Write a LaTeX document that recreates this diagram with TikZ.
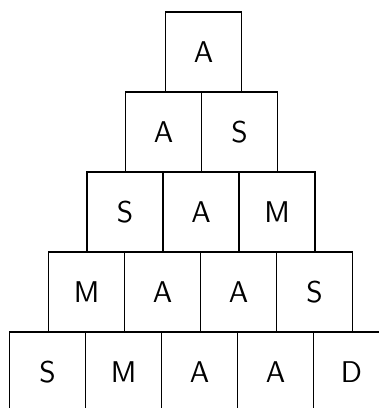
\documentclass[tikz,border=0pt]{standalone}
\usepackage{tikz}
\usetikzlibrary{positioning}

\tikzset{
  brick/.style={draw, line width=0.8pt, minimum width=38pt, minimum height=40pt,
    inner sep=0pt, outer sep=0pt, font=\sffamily\fontsize{15}{17}\selectfont},
}

\begin{document}
\begin{tikzpicture}[x=0.5pt, y=-0.5pt]
  \useasboundingbox (0,0) rectangle (379,408);
  \clip (0,0) rectangle (379,408);
  % top row
  \node[brick] (r1a) at (203.5,52) {A};
  % second row
  \node[brick] (r2a) at (163.5,132) {A};
  \node[brick, right=0pt of r2a] (r2b) {S};
  % third row
  \node[brick] (r3a) at (125,212) {S};
  \node[brick, right=0pt of r3a] (r3b) {A};
  \node[brick, right=0pt of r3b] (r3c) {M};
  % fourth row
  \node[brick] (r4a) at (86.5,292) {M};
  \node[brick, right=0pt of r4a] (r4b) {A};
  \node[brick, right=0pt of r4b] (r4c) {A};
  \node[brick, right=0pt of r4c] (r4d) {S};
  % bottom row, cut off by the frame
  \node[brick] (r5a) at (47.5,372) {S};
  \node[brick, right=0pt of r5a] (r5b) {M};
  \node[brick, right=0pt of r5b] (r5c) {A};
  \node[brick, right=0pt of r5c] (r5d) {A};
  \node[brick, right=0pt of r5d] (r5e) {D};
\end{tikzpicture}
\end{document}
